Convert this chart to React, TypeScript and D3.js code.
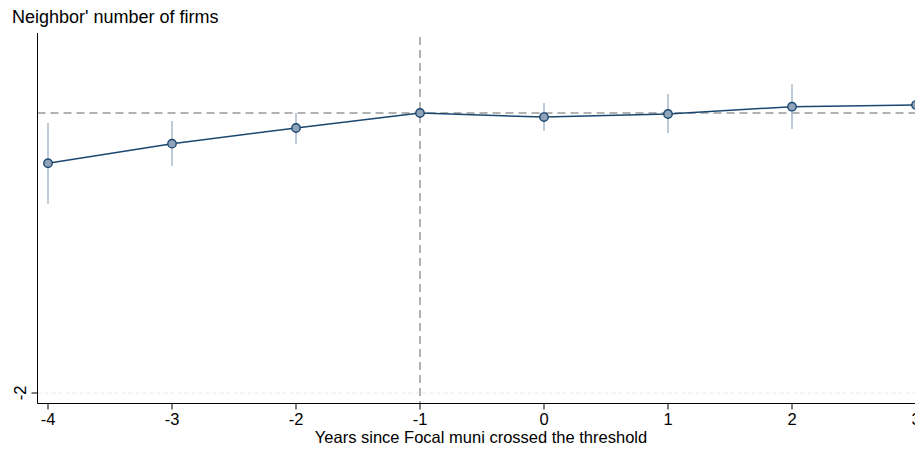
import React from "react";
import * as d3 from "d3";

const years = [-4, -3, -2, -1, 0, 1, 2, 3];
const estimates = [-0.359, -0.219, -0.107, 0, -0.029, -0.007, 0.045, 0.057];
const ciLow = [-0.65, -0.379, -0.221, 0, -0.129, -0.143, -0.114, -0.129];
const ciHigh = [-0.071, -0.057, 0.0, 0, 0.071, 0.136, 0.207, 0.25];
const xTicks = [-4, -3, -2, -1, 0, 1, 2, 3];
const yTicks = [-2];

const W = 915;
const H = 449;

export default function App() {
  const x = d3.scaleLinear().domain([-4, 3]).range([48, 916]);
  const y = d3.scaleLinear().domain([0, -2]).range([113, 393]);
  const left = 37.5;
  const bottom = 403.5;
  const top = 33;
  const line = d3
    .line<number>()
    .x((_, i) => x(years[i]))
    .y((d) => y(d));
  const font = "Arial, 'Liberation Sans', Helvetica, sans-serif";
  return (
    <svg
      width={W}
      height={H}
      style={{ position: "fixed", left: 0, top: 0, background: "#fff" }}
      fontFamily={font}
    >
      <rect width={W} height={H} fill="#fff" />
      {yTicks.map((t) => (
        <line key={"g" + t} x1={left} x2={W} y1={y(t)} y2={y(t)} stroke="#e2ecec" strokeWidth={1} strokeDasharray="4,3" />
      ))}
      <line x1={left} x2={W} y1={y(0)} y2={y(0)} stroke="#999" strokeWidth={1.5} strokeDasharray="8,5" />
      <line x1={x(-1)} x2={x(-1)} y1={37} y2={bottom} stroke="#999" strokeWidth={1.5} strokeDasharray="8,5" />
      {years.map((yr, i) =>
        ciLow[i] !== ciHigh[i] ? (
          <line key={"ci" + yr} x1={x(yr)} x2={x(yr)} y1={y(ciLow[i])} y2={y(ciHigh[i])} stroke="#a9b9c9" strokeWidth={1.5} />
        ) : null
      )}
      <path d={line(estimates) || ""} fill="none" stroke="#1a476f" strokeWidth={1.5} />
      {years.map((yr, i) => (
        <circle key={"p" + yr} cx={x(yr)} cy={y(estimates[i])} r={4.2} fill="#90a4b9" stroke="#1a476f" strokeWidth={1.4} />
      ))}
      <line x1={left} x2={left} y1={top} y2={bottom} stroke="#000" strokeWidth={1} />
      <line x1={left} x2={W} y1={bottom} y2={bottom} stroke="#000" strokeWidth={1} />
      {yTicks.map((t) => (
        <g key={"yt" + t}>
          <line x1={left - 6} x2={left} y1={y(t)} y2={y(t)} stroke="#000" />
          <text
            transform={`translate(${26},${y(t)}) rotate(-90)`}
            textAnchor="middle"
            fontSize={16.5}
            fill="#000"
          >
            {t}
          </text>
        </g>
      ))}
      {xTicks.map((t) => (
        <g key={"xt" + t}>
          <line x1={x(t)} x2={x(t)} y1={bottom} y2={bottom + 6} stroke="#000" />
          <text x={x(t)} y={425} textAnchor="middle" fontSize={16.5} fill="#000">
            {t}
          </text>
        </g>
      ))}
      <text x={481} y={443} textAnchor="middle" fontSize={16.5} fill="#000">
        Years since Focal muni crossed the threshold
      </text>
      <text x={12} y={23} fontSize={18} fill="#000">
        Neighbor' number of firms
      </text>
    </svg>
  );
}
